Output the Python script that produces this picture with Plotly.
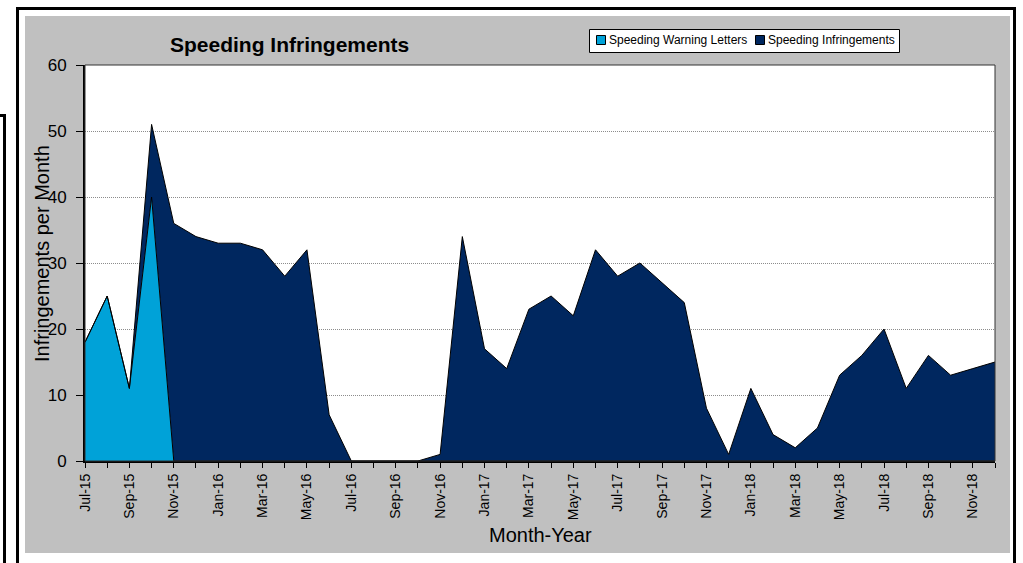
import plotly.graph_objects as go

# ---------------- data ----------------
months = ["Jul-15", "Aug-15", "Sep-15", "Oct-15", "Nov-15", "Dec-15",
          "Jan-16", "Feb-16", "Mar-16", "Apr-16", "May-16", "Jun-16",
          "Jul-16", "Aug-16", "Sep-16", "Oct-16", "Nov-16", "Dec-16",
          "Jan-17", "Feb-17", "Mar-17", "Apr-17", "May-17", "Jun-17",
          "Jul-17", "Aug-17", "Sep-17", "Oct-17", "Nov-17", "Dec-17",
          "Jan-18", "Feb-18", "Mar-18", "Apr-18", "May-18", "Jun-18",
          "Jul-18", "Aug-18", "Sep-18", "Oct-18", "Nov-18", "Dec-18"]

warning_letters = [18, 25, 11, 40, 0, 0,
                   0, 0, 0, 0, 0, 0,
                   0, 0, 0, 0, 0, 0,
                   0, 0, 0, 0, 0, 0,
                   0, 0, 0, 0, 0, 0,
                   0, 0, 0, 0, 0, 0,
                   0, 0, 0, 0, 0, 0]

infringements = [0, 0, 0, 11, 36, 34,
                 33, 33, 32, 28, 32, 7,
                 0, 0, 0, 0, 1, 34,
                 17, 14, 23, 25, 22, 32,
                 28, 30, 27, 24, 8, 1,
                 11, 4, 2, 5, 13, 16,
                 20, 11, 16, 13, 14, 15]

y_ticks = [0, 10, 20, 30, 40, 50, 60]

series_names = ["Speeding Warning Letters", "Speeding Infringements"]
title_text = "Speeding Infringements"
x_title = "Month-Year"
y_title = "Infringements per Month"

# ---------------- style ----------------
BLUE = "#00A2D8"
NAVY = "#00275F"
GRAY = "#C0C0C0"
FONT = "Liberation Sans, Arial, sans-serif"

W, H = 1023, 563
PL, PR, PT, PB = 85, 995, 65, 461


def px(x):
    return (x - PL) / (PR - PL)


def py(y):
    return (PB - y) / (PB - PT)


xi = list(range(len(months)))
tick_text = [m if i % 2 == 0 else "" for i, m in enumerate(months)]

fig = go.Figure()
fig.add_trace(go.Scatter(
    x=xi, y=warning_letters, name=series_names[0], stackgroup="one",
    mode="lines", line=dict(color="black", width=1), fillcolor=BLUE,
    showlegend=False, hoverinfo="x+y"))
fig.add_trace(go.Scatter(
    x=xi, y=infringements, name=series_names[1], stackgroup="one",
    mode="lines", line=dict(color="black", width=1), fillcolor=NAVY,
    showlegend=False, hoverinfo="x+y"))

shapes = [
    # grey chart area
    dict(type="rect", xref="paper", yref="paper", layer="below",
         x0=px(25), x1=px(1010), y0=py(16), y1=py(553),
         fillcolor=GRAY, line=dict(width=0)),
    # white plot area
    dict(type="rect", xref="paper", yref="paper", layer="below",
         x0=0, x1=1, y0=0, y1=1, fillcolor="white", line=dict(width=0)),
    # plot area border (top / right)
    dict(type="rect", xref="paper", yref="paper", layer="above",
         x0=0, x1=1, y0=0, y1=1, line=dict(color="#333333", width=1)),
    # outer frame
    dict(type="rect", xref="paper", yref="paper", layer="above",
         x0=px(17.5), x1=px(1014.5), y0=py(8.5), y1=py(600),
         line=dict(color="black", width=3)),
    # partial frame of neighbouring object
    dict(type="path", xref="paper", yref="paper", layer="above",
         path="M %f %f L %f %f L %f %f" % (px(-5), py(115.5), px(4.5), py(115.5),
                                           px(4.5), py(620)),
         line=dict(color="black", width=3)),
    # legend box
    dict(type="rect", xref="paper", yref="paper", layer="above",
         x0=px(589.5), x1=px(899.5), y0=py(29.5), y1=py(52.5),
         fillcolor="white", line=dict(color="black", width=1)),
    dict(type="rect", xref="paper", yref="paper", layer="above",
         x0=px(596.5), x1=px(605.5), y0=py(35.5), y1=py(44.5),
         fillcolor=BLUE, line=dict(color="black", width=1)),
    dict(type="rect", xref="paper", yref="paper", layer="above",
         x0=px(755.5), x1=px(764.5), y0=py(35.5), y1=py(44.5),
         fillcolor=NAVY, line=dict(color="black", width=1)),
]

annotations = [
    dict(text="<b>%s</b>" % title_text, xref="paper", yref="paper",
         x=px(289), y=py(44), xanchor="center", yanchor="middle",
         showarrow=False, font=dict(family=FONT, size=21, color="black")),
    dict(text=x_title, xref="paper", yref="paper",
         x=px(540), y=py(535), xanchor="center", yanchor="middle",
         showarrow=False, font=dict(family=FONT, size=20, color="black")),
    dict(text=y_title, xref="paper", yref="paper", textangle=-90,
         x=px(42), y=py(254), xanchor="center", yanchor="middle",
         showarrow=False, font=dict(family=FONT, size=20, color="black")),
    dict(text=series_names[0], xref="paper", yref="paper",
         x=px(607), y=py(40), xanchor="left", yanchor="middle",
         showarrow=False, font=dict(family=FONT, size=12, color="black")),
    dict(text=series_names[1], xref="paper", yref="paper",
         x=px(766), y=py(40), xanchor="left", yanchor="middle",
         showarrow=False, font=dict(family=FONT, size=12, color="black")),
]

fig.update_layout(
    width=W, height=H, autosize=False,
    margin=dict(l=PL, r=W - PR, t=PT, b=H - PB, pad=0),
    paper_bgcolor="white", plot_bgcolor="white",
    font=dict(family=FONT, color="black"),
    shapes=shapes, annotations=annotations, showlegend=False,
    xaxis=dict(range=[0, len(months) - 1], tickmode="array", tickvals=xi,
               ticktext=tick_text, tickangle=-90, ticks="outside", ticklen=5,
               tickwidth=1, tickcolor="black", showgrid=False, zeroline=False,
               showline=True, linecolor="black", linewidth=2,
               tickfont=dict(family=FONT, size=14, color="black")),
    yaxis=dict(range=[0, 60], tickmode="array", tickvals=y_ticks,
               ticks="outside", ticklen=7, tickwidth=1, tickcolor="black",
               showgrid=True, gridcolor="#8C8C8C", griddash="1px,1px", gridwidth=1,
               zeroline=False, showline=True, linecolor="black", linewidth=2,
               ticklabelstandoff=6,
               tickfont=dict(family=FONT, size=17, color="black")),
)

fig.write_html("out.html",
               config={"displayModeBar": False},
               post_script="document.body.style.margin='0';"
                           "document.body.style.overflow='hidden';")
